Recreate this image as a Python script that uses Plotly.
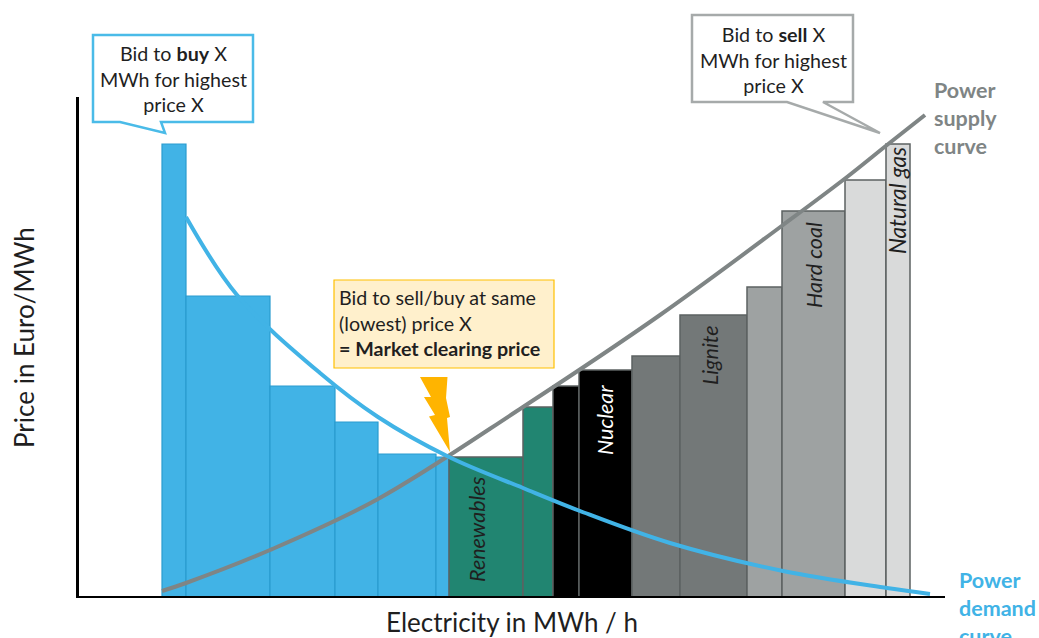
import plotly.graph_objects as go

W, H = 1039, 638
L, R, T, B = 79, 94, 97, 42  # plot area margins
X0, Y0 = 77, 597  # picture position of the data origin

# ---- data (x: cumulative MWh/h units, y: price units, both) ----
buy_left = [85, 109, 193, 258, 301, 359]
buy_width = [24, 84, 65, 43, 58, 13]
buy_price = [453, 301, 211, 175, 143, 140]

supply_names = ["Renewables", "Renewables 2", "Nuclear 1", "Nuclear", "Lignite 2", "Lignite",
                "Hard coal 2", "Hard coal", "Natural gas 2", "Natural gas"]
supply_left = [372, 446, 476, 502, 555, 603, 670, 705, 768, 809]
supply_width = [74, 30, 26, 53, 48, 67, 35, 63, 41, 24]
supply_price = [140, 190, 211, 227, 241, 282, 310, 386, 417, 453]

supply_curve_x = [85, 109, 193, 301, 446, 583, 706, 770, 810, 848]
supply_curve_y = [6, 14, 47, 98, 190, 282, 372, 420, 452, 482]

demand_curve_x = [109, 160, 243, 301, 372, 446, 503, 593, 706, 810, 853]
demand_curve_y = [380, 302, 224, 180, 140, 109, 86, 54, 26, 9, 3]

BLUE = "#41B3E6"
BLUE_EDGE = "#2A9CCF"
GREY_LINE = "#7F8585"
supply_fill = ["#218571", "#218571", "#000000", "#000000", "#737878", "#737878",
               "#9EA2A2", "#9EA2A2", "#D9DADA", "#D9DADA"]


def fx(px):
    return (px - L) / (W - L - R)


def fy(py):
    return (H - B - py) / (H - T - B)


def path(points, close=True):
    d = "M " + " L ".join(f"{fx(x):.5f},{fy(y):.5f}" for x, y in points)
    return d + (" Z" if close else "")


fig = go.Figure()

fig.add_trace(go.Bar(
    x=buy_left, y=buy_price, width=buy_width, offset=0, name="Bids to buy",
    marker=dict(color=BLUE, line=dict(color=BLUE_EDGE, width=1.2)),
))
fig.add_trace(go.Bar(
    x=supply_left, y=supply_price, width=supply_width, offset=0, name="Bids to sell",
    text=supply_names, textposition="none",
    marker=dict(color=supply_fill, line=dict(color="#5C6262", width=1.5)),
))
fig.add_trace(go.Scatter(
    x=supply_curve_x, y=supply_curve_y, mode="lines", name="Power supply curve",
    line=dict(color=GREY_LINE, width=4, shape="spline", smoothing=1.0),
))
fig.add_trace(go.Scatter(
    x=demand_curve_x, y=demand_curve_y, mode="lines", name="Power demand curve",
    line=dict(color=BLUE, width=4, shape="spline", smoothing=1.0),
))

shapes = [
    dict(type="path", xref="paper", yref="paper", fillcolor="white",
         line=dict(color="#4ABBE8", width=2.5),
         path=path([(93, 35), (253, 35), (253, 122), (161, 122), (165, 133), (120, 122), (93, 122)])),
    dict(type="path", xref="paper", yref="paper", fillcolor="white",
         line=dict(color="#A6AAAA", width=2.5),
         path=path([(692, 15), (853, 15), (853, 102), (823, 102), (880, 133), (787, 102), (692, 102)])),
    dict(type="path", xref="paper", yref="paper", fillcolor="#FFF0CC",
         line=dict(color="#FFC000", width=1.2),
         path=path([(334, 280), (554, 280), (554, 368), (334, 368)])),
    dict(type="path", xref="paper", yref="paper", fillcolor="#FFB400", line=dict(width=0),
         path=path([(420, 377), (447.5, 377), (446, 398), (450, 417), (447, 418), (450, 452),
                    (429, 416.5), (435, 415), (424, 397), (431, 397)])),
]

FONT = "Lato"
TXT = "#1F1F1F"


def note(px, py, text, size=19.7, color=TXT, angle=0, align="center", xanchor="center", yanchor="middle", italic=False):
    font = dict(family=FONT, size=size, color=color)
    if italic:
        font["style"] = "italic"
    return dict(x=fx(px), y=fy(py), xref="paper", yref="paper", text=text, showarrow=False,
                font=font, textangle=angle, align=align, xanchor=xanchor, yanchor=yanchor)


annotations = [
    note(173, 79, "Bid to <b>buy</b> X<br>MWh for highest<br>price X"),
    note(773, 60, "Bid to <b>sell</b> X<br>MWh for highest<br>price X"),
    note(337, 323, "Bid to sell/buy at same<br>(lowest) price X<br><b>= Market clearing price</b>",
         align="left", xanchor="left"),
    note(477, 529, "Renewables", size=21.5, angle=-90, italic=True),
    note(605, 420, "Nuclear", size=21.5, angle=-90, italic=True, color="white"),
    note(710, 355, "Lignite", size=21.5, angle=-90, italic=True),
    note(814, 265, "Hard coal", size=21.5, angle=-90, italic=True),
    note(897, 201, "Natural gas", size=22.5, angle=-90, italic=True),
    note(932, 118, "<b>Power<br>supply<br>curve</b>", size=21.5, color=GREY_LINE, align="left", xanchor="left"),
    note(957, 608, "<b>Power<br>demand<br>curve</b>", size=21.5, color=BLUE, align="left", xanchor="left"),
    note(24, 338, "Price in Euro/MWh", size=26, angle=-90),
]

fig.update_layout(
    width=W, height=H, margin=dict(l=L, r=R, t=T, b=B, autoexpand=False),
    paper_bgcolor="white", plot_bgcolor="white", showlegend=False,
    barmode="overlay", shapes=shapes, annotations=annotations,
    font=dict(family=FONT, color=TXT),
    xaxis=dict(range=[L - X0, W - R - X0], showgrid=False, zeroline=False, showticklabels=False, ticks="",
               showline=True, linecolor="black", linewidth=2,
               title=dict(text="Electricity in MWh / h", font=dict(family=FONT, size=26, color=TXT), standoff=20)),
    yaxis=dict(range=[Y0 - (H - B), Y0 - T], showgrid=False, zeroline=False, showticklabels=False, ticks="",
               showline=True, linecolor="black", linewidth=3),
)

fig.write_html("out.html", config={"displayModeBar": False},
               post_script="document.body.style.margin='0';document.body.style.overflow='hidden';")
